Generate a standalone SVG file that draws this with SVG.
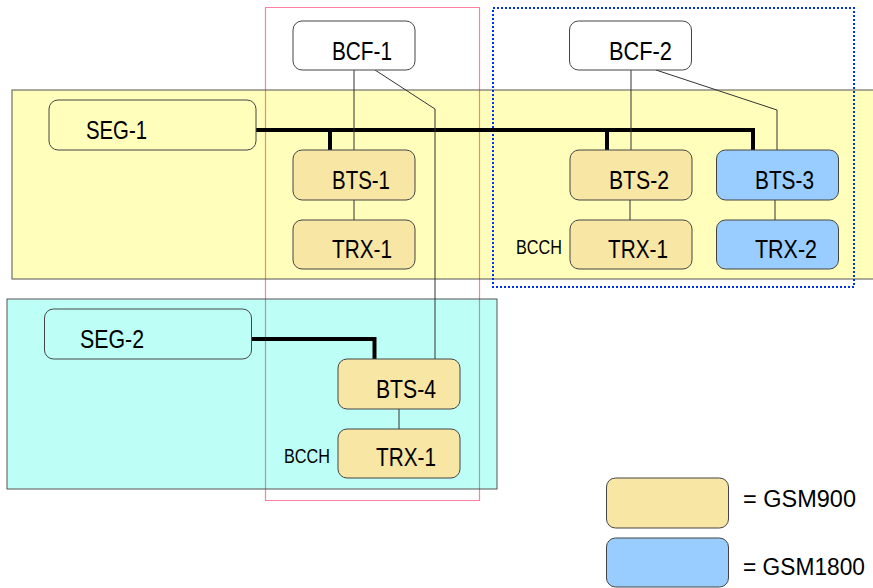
<svg xmlns="http://www.w3.org/2000/svg" width="873" height="588" viewBox="0 0 873 588">
<style>
.band{stroke:#555;stroke-width:1}
.n{stroke:#444;stroke-width:1}
.w{fill:#fff}
.t{fill:#f8e6a4}
.b{fill:#99ccff}
.s{fill:#ffffbb}
.c{fill:#bdfff6}
text{font-family:"Liberation Sans",Arial,sans-serif;font-size:25px;fill:#000}
.sm{font-size:20px}
.lg{font-size:23px}
.thin{stroke:#333;stroke-width:1;fill:none}
.bus{stroke:#000;stroke-width:4;fill:none}
</style>
<rect class="band" x="12" y="90" width="870" height="189" fill="#ffffbb"/>
<rect class="band" x="7" y="299" width="490" height="190" fill="#bdfff6"/>
<rect x="265.5" y="7.5" width="214" height="493" fill="none" stroke="#ff0040" stroke-width="1.2" stroke-dasharray="1 1"/>
<rect x="493" y="8" width="361" height="279" fill="none" stroke="#0033ee" stroke-width="2" stroke-dasharray="2 2"/>
<g id="connectors">
<path class="bus" d="M256 130H753V150M330 130V150M607 130V150"/>
<path class="bus" d="M252 339H374.5V359"/>
<path class="thin" d="M354 70V150M354 200V220M375 70L435 109V359M631 70V150M656 70L777 110V150M630 200V220M775 200V220M399 409V429"/>
</g>
<g id="bcf1"><rect class="n w" x="293" y="21" width="122" height="49" rx="9"/><text x="332" y="60" textLength="60" lengthAdjust="spacingAndGlyphs">BCF-1</text></g>
<g id="bcf2"><rect class="n w" x="569.5" y="21" width="122" height="49" rx="9"/><text x="609" y="60" textLength="63" lengthAdjust="spacingAndGlyphs">BCF-2</text></g>
<g id="seg1"><rect class="n s" x="49" y="100" width="207" height="50" rx="9"/><text x="86" y="139" textLength="61" lengthAdjust="spacingAndGlyphs">SEG-1</text></g>
<g id="bts1"><rect class="n t" x="293" y="150" width="122" height="50" rx="9"/><text x="332" y="189" textLength="58" lengthAdjust="spacingAndGlyphs">BTS-1</text></g>
<g id="trx1a"><rect class="n t" x="293" y="220" width="122" height="49" rx="9"/><text x="332" y="258" textLength="60" lengthAdjust="spacingAndGlyphs">TRX-1</text></g>
<g id="bts2"><rect class="n t" x="570" y="150" width="122" height="50" rx="9"/><text x="609" y="189" textLength="60" lengthAdjust="spacingAndGlyphs">BTS-2</text></g>
<g id="trx1b"><rect class="n t" x="570" y="220" width="122" height="49" rx="9"/><text x="608" y="258" textLength="60" lengthAdjust="spacingAndGlyphs">TRX-1</text><text class="sm" x="516" y="254" textLength="46" lengthAdjust="spacingAndGlyphs">BCCH</text></g>
<g id="bts3"><rect class="n b" x="716.5" y="150" width="122" height="50" rx="9"/><text x="755" y="189" textLength="59" lengthAdjust="spacingAndGlyphs">BTS-3</text></g>
<g id="trx2"><rect class="n b" x="716.5" y="220" width="122" height="49" rx="9"/><text x="755" y="258" textLength="62" lengthAdjust="spacingAndGlyphs">TRX-2</text></g>
<g id="seg2"><rect class="n c" x="44.5" y="309" width="207" height="50" rx="9"/><text x="80" y="348" textLength="64" lengthAdjust="spacingAndGlyphs">SEG-2</text></g>
<g id="bts4"><rect class="n t" x="338" y="359" width="122" height="50" rx="9"/><text x="376" y="398" textLength="60" lengthAdjust="spacingAndGlyphs">BTS-4</text></g>
<g id="trx1c"><rect class="n t" x="338" y="429" width="122" height="49" rx="9"/><text x="376" y="466" textLength="60" lengthAdjust="spacingAndGlyphs">TRX-1</text><text class="sm" x="284" y="463" textLength="46" lengthAdjust="spacingAndGlyphs">BCCH</text></g>
<g id="legend900"><rect class="n t" x="606.5" y="478" width="122" height="50" rx="9"/><text class="lg" x="743" y="507" textLength="113" lengthAdjust="spacingAndGlyphs">= GSM900</text></g>
<g id="legend1800"><rect class="n b" x="606.5" y="538" width="122" height="49" rx="9"/><text class="lg" x="743" y="575" textLength="122" lengthAdjust="spacingAndGlyphs">= GSM1800</text></g>
</svg>
